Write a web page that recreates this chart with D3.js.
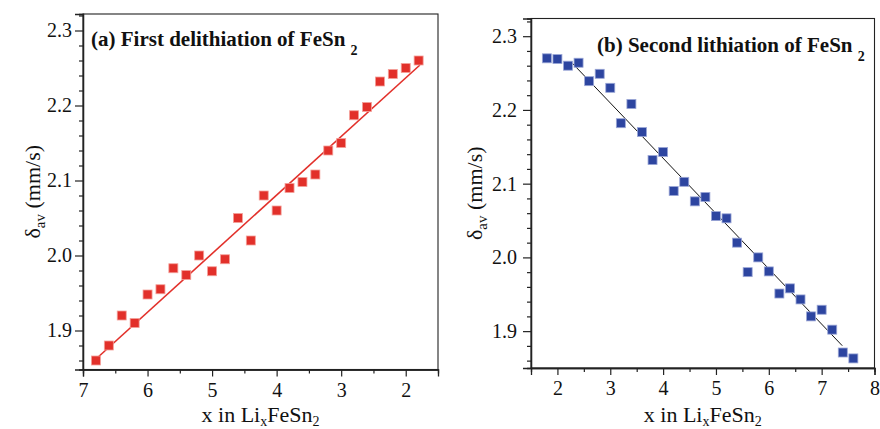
<!DOCTYPE html>
<html>
<head>
<meta charset="utf-8">
<script src="https://cdn.jsdelivr.net/npm/d3@7"></script>
<style>
  html, body { margin: 0; padding: 0; background: #fff; }
  svg { display: block; }
  svg text { font-family: "Liberation Serif", Tinos, "Times New Roman", Times, "Nimbus Roman", "DejaVu Serif", serif !important; fill: #111; }
</style>
</head>
<body>
<svg id="chart" width="880" height="429"></svg>
<script>
// Panel (a): first delithiation of FeSn2
const xA = [6.8, 6.6, 6.4, 6.2, 6.0, 5.8, 5.6, 5.4, 5.2, 5.0, 4.8, 4.6, 4.4,
            4.2, 4.0, 3.8, 3.6, 3.4, 3.2, 3.0, 2.8, 2.6, 2.4, 2.2, 2.0, 1.8];
const yA = [1.86, 1.88, 1.92, 1.91, 1.948, 1.955, 1.983, 1.974, 2.0, 1.979, 1.995, 2.05, 2.02,
            2.08, 2.06, 2.09, 2.098, 2.108, 2.14, 2.15, 2.187, 2.198, 2.232, 2.242, 2.25, 2.26];
// linear fit: [intercept, slope] and the x span it is drawn over
const fitA = [2.393, -0.0781];
const fitARange = [6.85, 1.78];

// Panel (b): second lithiation of FeSn2
const xB = [1.8, 2.0, 2.2, 2.4, 2.6, 2.8, 3.0, 3.2, 3.4, 3.6, 3.8, 4.0, 4.2, 4.4, 4.6,
            4.8, 5.0, 5.2, 5.4, 5.6, 5.8, 6.0, 6.2, 6.4, 6.6, 6.8, 7.0, 7.2, 7.4, 7.6];
const yB = [2.27, 2.269, 2.26, 2.264, 2.239, 2.249, 2.23, 2.182, 2.208, 2.17, 2.132, 2.143, 2.09, 2.1025, 2.076,
            2.082, 2.056, 2.053, 2.02, 1.98, 2.0, 1.981, 1.951, 1.958, 1.943, 1.92, 1.929, 1.902, 1.871, 1.863];
const fitB = [2.4345, -0.0750];
const fitBRange = [2.26, 7.39];

// Axis ticks
const yMajor = [1.9, 2.0, 2.1, 2.2, 2.3];
const xMajorA = [7, 6, 5, 4, 3, 2];
const xMajorB = [2, 3, 4, 5, 6, 7, 8];

const svg = d3.select("#chart");
svg.append("rect").attr("width", 880).attr("height", 429).attr("fill", "#fff");

function panel(cfg) {
  const g = svg.append("g");
  const x = d3.scaleLinear().domain(cfg.xDomain).range([cfg.left, cfg.right]);
  const y = d3.scaleLinear().domain(cfg.yDomain).range([cfg.bottom, cfg.top]);

  const yMinor = d3.range(1.86, 2.33, 0.02).map(v => +v.toFixed(2))
    .filter(v => v >= Math.min(...cfg.yDomain) && v <= Math.max(...cfg.yDomain))
    .filter(v => !yMajor.some(m => Math.abs(m - v) < 1e-6));
  const xLo = Math.min(...cfg.xDomain), xHi = Math.max(...cfg.xDomain);
  const xMinor = d3.range(Math.ceil(xLo * 2) / 2, xHi + 0.001, 0.5)
    .filter(v => Math.abs(v - Math.round(v)) > 1e-6 && v > xLo + 0.01 && v < xHi - 0.01);

  // frame
  g.append("rect")
    .attr("x", cfg.left).attr("y", cfg.top)
    .attr("width", cfg.right - cfg.left).attr("height", cfg.bottom - cfg.top)
    .attr("fill", "none").attr("stroke", "#222").attr("stroke-width", 1.1);

  // y axis
  g.append("g").attr("transform", `translate(${cfg.left},0)`)
    .call(d3.axisLeft(y).tickValues(yMajor).tickFormat(d3.format(".1f")).tickSize(8).tickPadding(cfg.yPad));
  g.append("g").attr("transform", `translate(${cfg.left},0)`)
    .call(d3.axisLeft(y).tickValues(yMinor).tickFormat("").tickSize(4));

  // x axis
  g.append("g").attr("transform", `translate(0,${cfg.bottom})`)
    .call(d3.axisBottom(x).tickValues(cfg.xMajor).tickFormat(d3.format("d")).tickSize(7).tickPadding(6));
  g.append("g").attr("transform", `translate(0,${cfg.bottom})`)
    .call(d3.axisBottom(x).tickValues(xMinor).tickFormat("").tickSize(4));

  g.selectAll("g").attr("font-family", null);
  g.selectAll(".domain").attr("stroke", "#222").attr("stroke-width", 1.3);
  g.selectAll(".tick line").attr("stroke", "#222").attr("stroke-width", 1.2);
  g.selectAll(".tick text").attr("font-size", 20).attr("fill", "#111");

  // fit line
  const line = d3.line().x(d => x(d)).y(d => y(cfg.fit[0] + cfg.fit[1] * d));
  g.append("path").datum(cfg.fitRange).attr("d", line)
    .attr("fill", "none").attr("stroke", cfg.lineColor).attr("stroke-width", cfg.lineWidth);

  // markers
  const s = 9;
  g.selectAll("rect.pt").data(cfg.xs.map((v, i) => [v, cfg.ys[i]])).join("rect")
    .attr("class", "pt")
    .attr("x", d => x(d[0]) - s / 2).attr("y", d => y(d[1]) - s / 2)
    .attr("width", s).attr("height", s)
    .attr("fill", cfg.color).attr("stroke", cfg.halo).attr("stroke-width", 0.8);

  // axis titles
  const xt = g.append("text")
    .attr("x", (cfg.left + cfg.right) / 2).attr("y", 422)
    .attr("text-anchor", "middle").attr("font-size", 22);
  xt.append("tspan").text("x in Li");
  xt.append("tspan").attr("font-size", 14).attr("dy", 4).text("x");
  xt.append("tspan").attr("dy", -4).text("FeSn");
  xt.append("tspan").attr("font-size", 14).attr("dy", 4).text("2");

  const yt = g.append("text")
    .attr("transform", `translate(${cfg.yTitleX},${(cfg.top + cfg.bottom) / 2}) rotate(-90)`)
    .attr("text-anchor", "middle").attr("font-size", 22);
  yt.append("tspan").text("δ");
  yt.append("tspan").attr("font-size", 15).attr("dy", 5).text("av");
  yt.append("tspan").attr("dy", -5).text(" (mm/s)");

  // panel title
  const tt = g.append("text")
    .attr("x", cfg.titleX).attr("y", cfg.titleY)
    .attr("font-size", 21).attr("font-weight", "bold");
  tt.append("tspan").text(cfg.title + " ");
  tt.append("tspan").attr("font-size", 14).attr("dy", 9).text("2");
}

panel({
  left: 83, right: 438, top: 14, bottom: 369.5,
  xDomain: [7, 1.5], yDomain: [1.848, 2.322], xMajor: xMajorA, yPad: 3,
  xs: xA, ys: yA, fit: fitA, fitRange: fitARange,
  color: "#e2302a", halo: "#f4a09a", lineColor: "#e2302a", lineWidth: 1.6,
  yTitleX: 40, title: "(a) First delithiation of FeSn", titleX: 91, titleY: 46
});

panel({
  left: 531, right: 874.5, top: 18.5, bottom: 368,
  xDomain: [1.5, 8], yDomain: [1.85, 2.324], xMajor: xMajorB, yPad: 6,
  xs: xB, ys: yB, fit: fitB, fitRange: fitBRange,
  color: "#2d45a0", halo: "#9aa6d6", lineColor: "#111", lineWidth: 1,
  yTitleX: 482, title: "(b) Second lithiation of FeSn", titleX: 597, titleY: 52
});
</script>
</body>
</html>
